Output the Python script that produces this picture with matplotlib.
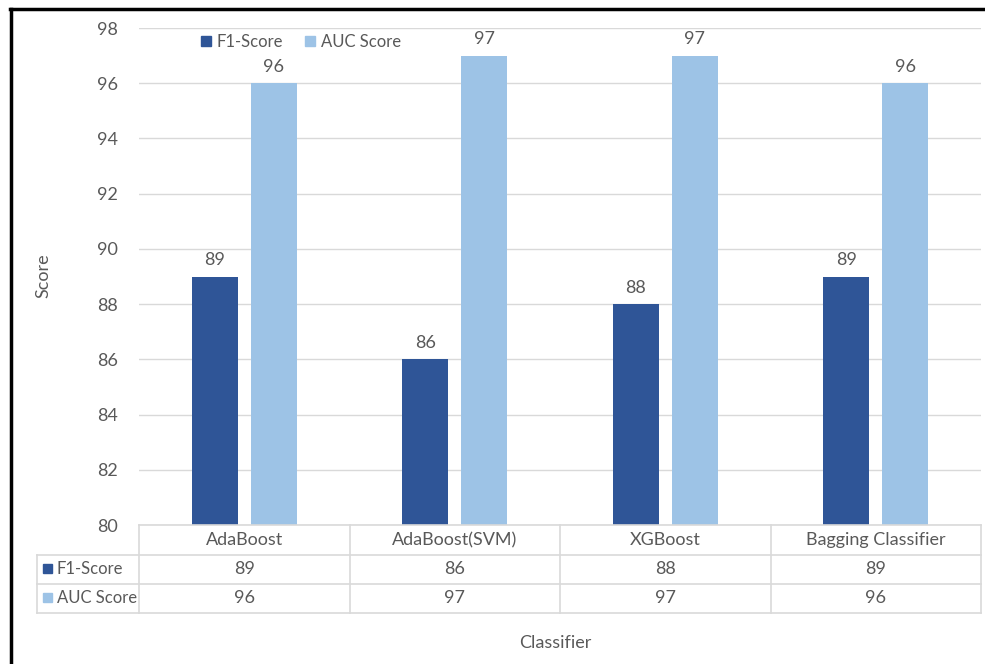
import matplotlib
matplotlib.use("Agg")
import matplotlib.pyplot as plt
import matplotlib.transforms as mtransforms
from matplotlib.lines import Line2D
from matplotlib.patches import Rectangle
import numpy as np

plt.rcParams['font.family'] = ['Lato', 'DejaVu Sans']

categories = ["AdaBoost", "AdaBoost(SVM)", "XGBoost", "Bagging Classifier"]
f1_scores = [89, 86, 88, 89]
auc_scores = [96, 97, 97, 96]
series_names = ["F1-Score", "AUC Score"]
y_ticks = [80, 82, 84, 86, 88, 90, 92, 94, 96, 98]

c_f1 = "#2F5597"
c_auc = "#9DC3E6"
txt = "#595959"
grid = "#D9D9D9"
fs = 13

W, H = 985, 664
fig = plt.figure(figsize=(W / 100, H / 100), dpi=100)

def fx(px):
    return px / W

def fy(py):
    return 1 - py / H

ax = fig.add_axes([fx(139), fy(525), fx(981) - fx(139), fy(28) - fy(525)])

x = np.arange(len(categories))
off, bw = 0.14, 0.22
b1 = ax.bar(x - off, f1_scores, bw, color=c_f1, zorder=3)
b2 = ax.bar(x + off, auc_scores, bw, color=c_auc, zorder=3)
for bars in (b1, b2):
    ax.bar_label(bars, padding=6, fontsize=fs, color=txt)

ax.set_xlim(-0.5, len(categories) - 0.5)
ax.set_ylim(80, 98)
ax.set_yticks(y_ticks)
ax.set_xticks([])
ax.tick_params(axis='y', length=0, pad=15, labelsize=fs, labelcolor=txt)
ax.yaxis.grid(True, color=grid, linewidth=1, zorder=0)
for s in ax.spines.values():
    s.set_visible(False)

fig.text(fx(43), fy(276), "Score", rotation=90, ha='center', va='center',
         fontsize=fs, color=txt)

# legend
fig.legend([Rectangle((0, 0), 1, 1, color=c_f1), Rectangle((0, 0), 1, 1, color=c_auc)],
           series_names, loc='center', bbox_to_anchor=(fx(301), fy(42)), ncol=2,
           frameon=False, fontsize=12, handlelength=0.6, handleheight=0.6,
           handletextpad=0.35, columnspacing=1.3, labelcolor=txt)

# data table under the plot
bt = mtransforms.blended_transform_factory(ax.transData, fig.transFigure)
rows_y = [525, 555, 584, 613]
left_px = 37
n = len(categories)
for i, yy in enumerate(rows_y):
    x0 = fx(139) if i == 0 else fx(left_px)
    fig.add_artist(Line2D([x0, fx(981)], [fy(yy), fy(yy)], color=grid, lw=1.2))
fig.add_artist(Line2D([fx(left_px), fx(left_px)], [fy(555), fy(613)], color=grid, lw=1.2))
for k in range(n + 1):
    xd = k - 0.5
    line = Line2D([xd, xd], [fy(525), fy(613)], color=grid, lw=1.2, transform=bt)
    fig.add_artist(line)

for i, c in enumerate(categories):
    fig.text(i, fy(540), c, transform=bt, ha='center', va='center', fontsize=fs, color=txt)
    fig.text(i, fy(569), str(f1_scores[i]), transform=bt, ha='center', va='center', fontsize=fs, color=txt)
    fig.text(i, fy(598), str(auc_scores[i]), transform=bt, ha='center', va='center', fontsize=fs, color=txt)

for name, col, yy in [(series_names[0], c_f1, 569), (series_names[1], c_auc, 598)]:
    fig.add_artist(Rectangle((fx(43), fy(yy) - 4 / H), 9 / W, 9 / H, color=col,
                             transform=fig.transFigure))
    fig.text(fx(57), fy(yy), name, ha='left', va='center', fontsize=12, color=txt)

fig.text(fx(555), fy(643), "Classifier", ha='center', va='center', fontsize=fs, color=txt)

# frame border (top and left)
fig.add_artist(Line2D([fx(10), 1], [fy(9), fy(9)], color='black', lw=2.5))
fig.add_artist(Line2D([fx(11), fx(11)], [fy(9), 0], color='black', lw=2.5))

fig.savefig("out.png", dpi=100)
